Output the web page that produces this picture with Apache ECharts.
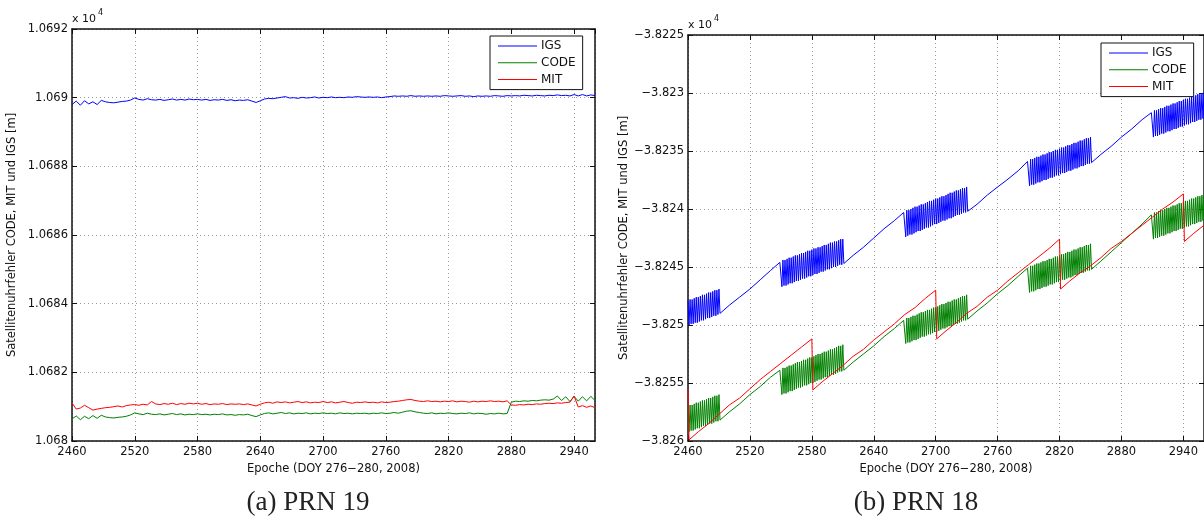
<!DOCTYPE html>
<html>
<head>
<meta charset="utf-8">
<script src="https://cdn.jsdelivr.net/npm/echarts@6.0.0/dist/echarts.min.js"></script>
<style>
html,body{margin:0;padding:0;background:#fff;}
#chart{width:1204px;height:521px;}
</style>
</head>
<body>
<div id="chart"></div>
<script>
// ---- Satellite clock error, PRN 19 (a) and PRN 18 (b), epochs 2460-2960 ----
const SERIES_NAMES = ['IGS', 'CODE', 'MIT'];
const SERIES_COLORS = ['#0000ff', '#008000', '#ff0000'];
const X_TITLE = 'Epoche (DOY 276\u2212280, 2008)';
const Y_TITLE = 'Satellitenuhrfehler CODE, MIT und IGS [m]';
const CAPTIONS = ['(a) PRN 19', '(b) PRN 18'];

const EPOCH_MIN = 2460, EPOCH_MAX = 2960, EPOCH_STEP = 60;
const LEFT_Y = { min: 10680, max: 10692, interval: 2 };
const RIGHT_Y = { min: -38260, max: -38225, interval: 5 };

// PRN 19: sample epochs shared by the three solutions
const PRN19_EPOCHS = [
  2460,2464,2468,2472,2476,2480,2484,2488,2492,2496,
  2500,2504,2508,2512,2516,2520,2524,2528,2532,2536,
  2540,2544,2548,2552,2556,2560,2564,2568,2572,2576,
  2580,2584,2588,2592,2596,2600,2604,2608,2612,2616,
  2620,2624,2628,2632,2636,2640,2644,2648,2652,2656,
  2660,2664,2668,2672,2676,2680,2684,2688,2692,2696,
  2700,2704,2708,2712,2716,2720,2724,2728,2732,2736,
  2740,2744,2748,2752,2756,2760,2764,2768,2772,2776,
  2780,2784,2788,2792,2796,2800,2804,2808,2812,2816,
  2820,2824,2828,2832,2836,2840,2844,2848,2852,2856,
  2860,2864,2868,2872,2876,2880,2884,2888,2892,2896,
  2900,2904,2908,2912,2916,2920,2924,2928,2932,2936,
  2940,2944,2948,2952,2956,2960
];
const PRN19_IGS = [
  10689.80,10689.90,10689.78,10689.91,10689.82,10689.88,10689.80,10689.92,10689.88,10689.86,
  10689.85,10689.87,10689.89,10689.90,10689.93,10689.99,10689.95,10689.93,10689.97,10689.94,
  10689.93,10689.95,10689.92,10689.94,10689.96,10689.93,10689.95,10689.93,10689.96,10689.94,
  10689.95,10689.93,10689.95,10689.92,10689.94,10689.93,10689.95,10689.92,10689.94,10689.91,
  10689.93,10689.92,10689.94,10689.90,10689.86,10689.91,10689.96,10689.98,10689.97,10689.99,
  10690.01,10690.03,10689.99,10690.00,10689.98,10690.01,10689.99,10690.00,10690.02,10689.99,
  10690.01,10690.00,10690.02,10690.00,10690.01,10690.00,10690.02,10690.01,10690.03,10690.02,
  10690.01,10690.02,10690.01,10690.02,10690.00,10690.02,10690.03,10690.05,10690.04,10690.05,
  10690.04,10690.06,10690.04,10690.05,10690.04,10690.05,10690.04,10690.05,10690.04,10690.06,
  10690.05,10690.04,10690.05,10690.06,10690.04,10690.05,10690.03,10690.05,10690.04,10690.05,
  10690.04,10690.06,10690.05,10690.04,10690.06,10690.05,10690.06,10690.05,10690.07,10690.06,
  10690.05,10690.07,10690.06,10690.05,10690.07,10690.06,10690.08,10690.06,10690.07,10690.05,
  10690.09,10690.05,10690.09,10690.05,10690.08,10690.06
];
const PRN19_CODE = [
  10680.64,10680.73,10680.62,10680.72,10680.65,10680.74,10680.66,10680.75,10680.70,10680.68,
  10680.67,10680.69,10680.70,10680.72,10680.76,10680.82,10680.79,10680.77,10680.81,10680.78,
  10680.77,10680.79,10680.76,10680.78,10680.80,10680.77,10680.79,10680.76,10680.78,10680.77,
  10680.79,10680.77,10680.78,10680.76,10680.78,10680.77,10680.79,10680.76,10680.77,10680.75,
  10680.77,10680.76,10680.78,10680.74,10680.71,10680.76,10680.80,10680.82,10680.79,10680.81,
  10680.83,10680.80,10680.82,10680.79,10680.81,10680.80,10680.82,10680.79,10680.81,10680.80,
  10680.82,10680.80,10680.81,10680.79,10680.82,10680.80,10680.81,10680.79,10680.81,10680.80,
  10680.81,10680.79,10680.81,10680.80,10680.82,10680.80,10680.81,10680.83,10680.81,10680.84,
  10680.87,10680.88,10680.85,10680.83,10680.81,10680.80,10680.82,10680.79,10680.81,10680.80,
  10680.82,10680.80,10680.79,10680.81,10680.80,10680.82,10680.79,10680.81,10680.80,10680.78,
  10680.80,10680.79,10680.81,10680.79,10680.80,10681.13,10681.16,10681.15,10681.17,10681.16,
  10681.18,10681.17,10681.19,10681.20,10681.19,10681.22,10681.31,10681.18,10681.29,10681.15,
  10681.30,10681.16,10681.29,10681.17,10681.30,10681.18
];
const PRN19_MIT = [
  10681.11,10680.93,10680.96,10681.04,10680.97,10680.90,10680.93,10680.95,10680.97,10680.98,
  10681.00,10681.02,10680.99,10681.03,10681.05,10681.06,10681.04,10681.07,10681.05,10681.15,
  10681.08,10681.06,10681.09,10681.07,10681.10,10681.06,10681.09,10681.07,10681.10,10681.08,
  10681.10,10681.07,10681.09,10681.06,10681.08,10681.07,10681.09,10681.06,10681.08,10681.07,
  10681.08,10681.06,10681.08,10681.05,10681.02,10681.07,10681.11,10681.13,10681.10,10681.14,
  10681.12,10681.14,10681.11,10681.13,10681.15,10681.12,10681.14,10681.11,10681.13,10681.12,
  10681.15,10681.12,10681.14,10681.11,10681.13,10681.15,10681.12,10681.10,10681.13,10681.12,
  10681.14,10681.12,10681.13,10681.11,10681.14,10681.12,10681.13,10681.15,10681.16,10681.18,
  10681.20,10681.21,10681.18,10681.16,10681.15,10681.17,10681.15,10681.16,10681.14,10681.16,
  10681.15,10681.17,10681.14,10681.16,10681.15,10681.13,10681.16,10681.14,10681.16,10681.15,
  10681.17,10681.15,10681.16,10681.14,10681.17,10681.05,10681.04,10681.06,10681.05,10681.07,
  10681.06,10681.08,10681.07,10681.09,10681.10,10681.09,10681.11,10681.10,10681.12,10681.13,
  10681.31,10680.99,10681.03,10680.98,10681.02,10680.97
];

// PRN 18: [epoch, metres]; the dense stretches alternate every epoch
const PRN18_IGS = [
  [2460,-38247.9],[2461,-38250.0],[2462,-38247.8],[2463,-38249.9],[2464,-38247.8],[2465,-38249.9],[2466,-38247.7],[2467,-38249.8],[2468,-38247.6],[2469,-38249.8],
  [2470,-38247.6],[2471,-38249.7],[2472,-38247.5],[2473,-38249.6],[2474,-38247.4],[2475,-38249.6],[2476,-38247.4],[2477,-38249.5],[2478,-38247.3],[2479,-38249.4],
  [2480,-38247.2],[2481,-38249.4],[2482,-38247.2],[2483,-38249.3],[2484,-38247.1],[2485,-38249.2],[2486,-38247.0],[2487,-38249.2],[2488,-38247.0],[2489,-38249.1],
  [2490,-38246.9],[2491,-38249.0],
  [2500,-38248.3],[2510,-38247.6],[2520,-38246.9],[2530,-38246.1],[2540,-38245.3],[2549,-38244.6],
  [2550,-38244.5],[2551,-38246.7],[2552,-38244.4],[2553,-38246.6],[2554,-38244.4],[2555,-38246.6],[2556,-38244.3],[2557,-38246.5],[2558,-38244.2],[2559,-38246.4],
  [2560,-38244.2],[2561,-38246.4],[2562,-38244.1],[2563,-38246.3],[2564,-38244.0],[2565,-38246.2],[2566,-38244.0],[2567,-38246.2],[2568,-38243.9],[2569,-38246.1],
  [2570,-38243.8],[2571,-38246.0],[2572,-38243.8],[2573,-38246.0],[2574,-38243.7],[2575,-38245.9],[2576,-38243.6],[2577,-38245.8],[2578,-38243.6],[2579,-38245.8],
  [2580,-38243.5],[2581,-38245.7],[2582,-38243.4],[2583,-38245.6],[2584,-38243.4],[2585,-38245.6],[2586,-38243.3],[2587,-38245.5],[2588,-38243.3],[2589,-38245.4],
  [2590,-38243.2],[2591,-38245.4],[2592,-38243.1],[2593,-38245.3],[2594,-38243.1],[2595,-38245.2],[2596,-38243.0],[2597,-38245.2],[2598,-38242.9],[2599,-38245.1],
  [2600,-38242.9],[2601,-38245.0],[2602,-38242.8],[2603,-38245.0],[2604,-38242.8],[2605,-38244.9],[2606,-38242.7],[2607,-38244.8],[2608,-38242.6],[2609,-38244.8],
  [2610,-38242.6],[2611,-38244.7],
  [2620,-38244.0],[2630,-38243.3],[2640,-38242.5],[2650,-38241.7],[2660,-38241.0],[2669,-38240.3],
  [2670,-38240.2],[2671,-38242.4],[2672,-38240.1],[2673,-38242.3],[2674,-38240.1],[2675,-38242.2],[2676,-38240.0],[2677,-38242.2],[2678,-38239.9],[2679,-38242.1],
  [2680,-38239.8],[2681,-38242.0],[2682,-38239.8],[2683,-38241.9],[2684,-38239.7],[2685,-38241.9],[2686,-38239.6],[2687,-38241.8],[2688,-38239.6],[2689,-38241.7],
  [2690,-38239.5],[2691,-38241.6],[2692,-38239.4],[2693,-38241.6],[2694,-38239.3],[2695,-38241.5],[2696,-38239.3],[2697,-38241.4],[2698,-38239.2],[2699,-38241.3],
  [2700,-38239.1],[2701,-38241.3],[2702,-38239.1],[2703,-38241.2],[2704,-38239.0],[2705,-38241.1],[2706,-38238.9],[2707,-38241.0],[2708,-38238.9],[2709,-38241.0],
  [2710,-38238.8],[2711,-38240.9],[2712,-38238.7],[2713,-38240.8],[2714,-38238.6],[2715,-38240.8],[2716,-38238.6],[2717,-38240.7],[2718,-38238.5],[2719,-38240.6],
  [2720,-38238.4],[2721,-38240.5],[2722,-38238.4],[2723,-38240.5],[2724,-38238.3],[2725,-38240.4],[2726,-38238.2],[2727,-38240.3],[2728,-38238.2],[2729,-38240.3],
  [2730,-38238.1],[2731,-38240.2],
  [2740,-38239.6],[2750,-38238.8],[2760,-38238.1],[2769,-38237.5],[2780,-38236.7],[2789,-38235.9],
  [2790,-38235.8],[2791,-38238.0],[2792,-38235.7],[2793,-38237.9],[2794,-38235.7],[2795,-38237.9],[2796,-38235.6],[2797,-38237.8],[2798,-38235.5],[2799,-38237.7],
  [2800,-38235.5],[2801,-38237.7],[2802,-38235.4],[2803,-38237.6],[2804,-38235.3],[2805,-38237.5],[2806,-38235.3],[2807,-38237.5],[2808,-38235.2],[2809,-38237.4],
  [2810,-38235.1],[2811,-38237.3],[2812,-38235.1],[2813,-38237.3],[2814,-38235.0],[2815,-38237.2],[2816,-38234.9],[2817,-38237.1],[2818,-38234.9],[2819,-38237.1],
  [2820,-38234.8],[2821,-38237.0],[2822,-38234.7],[2823,-38236.9],[2824,-38234.7],[2825,-38236.9],[2826,-38234.6],[2827,-38236.8],[2828,-38234.5],[2829,-38236.7],
  [2830,-38234.5],[2831,-38236.7],[2832,-38234.4],[2833,-38236.6],[2834,-38234.3],[2835,-38236.5],[2836,-38234.3],[2837,-38236.5],[2838,-38234.2],[2839,-38236.4],
  [2840,-38234.1],[2841,-38236.3],[2842,-38234.1],[2843,-38236.3],[2844,-38234.0],[2845,-38236.2],[2846,-38233.9],[2847,-38236.1],[2848,-38233.9],[2849,-38236.1],
  [2850,-38233.8],[2851,-38236.0],
  [2860,-38235.3],[2870,-38234.6],[2880,-38233.8],[2890,-38233.1],[2900,-38232.3],[2909,-38231.7],
  [2910,-38231.6],[2911,-38233.8],[2912,-38231.5],[2913,-38233.7],[2914,-38231.5],[2915,-38233.7],[2916,-38231.4],[2917,-38233.6],[2918,-38231.3],[2919,-38233.5],
  [2920,-38231.3],[2921,-38233.5],[2922,-38231.2],[2923,-38233.4],[2924,-38231.1],[2925,-38233.3],[2926,-38231.1],[2927,-38233.3],[2928,-38231.0],[2929,-38233.2],
  [2930,-38230.9],[2931,-38233.1],[2932,-38230.9],[2933,-38233.1],[2934,-38230.8],[2935,-38233.0],[2936,-38230.7],[2937,-38232.9],[2938,-38230.7],[2939,-38232.9],
  [2940,-38230.6],[2941,-38232.8],[2942,-38230.5],[2943,-38232.7],[2944,-38230.5],[2945,-38232.7],[2946,-38230.4],[2947,-38232.6],[2948,-38230.3],[2949,-38232.5],
  [2950,-38230.3],[2951,-38232.5],[2952,-38230.2],[2953,-38232.4],[2954,-38230.1],[2955,-38232.3],[2956,-38230.1],[2957,-38232.3],[2958,-38230.0],[2959,-38232.2],
  [2960,-38229.9]
];
const PRN18_CODE = [
  [2460,-38257.0],[2461,-38259.2],[2462,-38256.9],[2463,-38259.1],[2464,-38256.9],[2465,-38259.1],[2466,-38256.8],[2467,-38259.0],[2468,-38256.7],[2469,-38258.9],
  [2470,-38256.7],[2471,-38258.9],[2472,-38256.6],[2473,-38258.8],[2474,-38256.5],[2475,-38258.7],[2476,-38256.5],[2477,-38258.7],[2478,-38256.4],[2479,-38258.6],
  [2480,-38256.3],[2481,-38258.5],[2482,-38256.3],[2483,-38258.5],[2484,-38256.2],[2485,-38258.4],[2486,-38256.1],[2487,-38258.3],[2488,-38256.1],[2489,-38258.3],
  [2490,-38256.0],[2491,-38258.2],
  [2500,-38257.5],[2510,-38256.8],[2520,-38256.0],[2530,-38255.3],[2540,-38254.5],[2549,-38253.9],
  [2550,-38253.8],[2551,-38256.0],[2552,-38253.7],[2553,-38255.9],[2554,-38253.7],[2555,-38255.9],[2556,-38253.6],[2557,-38255.8],[2558,-38253.5],[2559,-38255.7],
  [2560,-38253.5],[2561,-38255.7],[2562,-38253.4],[2563,-38255.6],[2564,-38253.3],[2565,-38255.5],[2566,-38253.2],[2567,-38255.4],[2568,-38253.2],[2569,-38255.4],
  [2570,-38253.1],[2571,-38255.3],[2572,-38253.0],[2573,-38255.2],[2574,-38253.0],[2575,-38255.2],[2576,-38252.9],[2577,-38255.1],[2578,-38252.8],[2579,-38255.0],
  [2580,-38252.8],[2581,-38255.0],[2582,-38252.7],[2583,-38254.9],[2584,-38252.6],[2585,-38254.8],[2586,-38252.5],[2587,-38254.7],[2588,-38252.5],[2589,-38254.7],
  [2590,-38252.4],[2591,-38254.6],[2592,-38252.3],[2593,-38254.5],[2594,-38252.3],[2595,-38254.5],[2596,-38252.2],[2597,-38254.4],[2598,-38252.1],[2599,-38254.3],
  [2600,-38252.1],[2601,-38254.3],[2602,-38252.0],[2603,-38254.2],[2604,-38251.9],[2605,-38254.1],[2606,-38251.8],[2607,-38254.0],[2608,-38251.8],[2609,-38254.0],
  [2610,-38251.7],[2611,-38253.9],
  [2620,-38253.2],[2630,-38252.5],[2640,-38251.8],[2650,-38251.0],[2660,-38250.3],[2669,-38249.6],
  [2670,-38249.5],[2671,-38251.6],[2672,-38249.4],[2673,-38251.5],[2674,-38249.4],[2675,-38251.5],[2676,-38249.3],[2677,-38251.4],[2678,-38249.2],[2679,-38251.3],
  [2680,-38249.2],[2681,-38251.3],[2682,-38249.1],[2683,-38251.2],[2684,-38249.0],[2685,-38251.1],[2686,-38248.9],[2687,-38251.0],[2688,-38248.9],[2689,-38251.0],
  [2690,-38248.8],[2691,-38250.9],[2692,-38248.7],[2693,-38250.8],[2694,-38248.7],[2695,-38250.8],[2696,-38248.6],[2697,-38250.7],[2698,-38248.5],[2699,-38250.6],
  [2700,-38248.5],[2701,-38250.6],[2702,-38248.4],[2703,-38250.5],[2704,-38248.3],[2705,-38250.4],[2706,-38248.2],[2707,-38250.3],[2708,-38248.2],[2709,-38250.3],
  [2710,-38248.1],[2711,-38250.2],[2712,-38248.0],[2713,-38250.1],[2714,-38248.0],[2715,-38250.1],[2716,-38247.9],[2717,-38250.0],[2718,-38247.8],[2719,-38249.9],
  [2720,-38247.8],[2721,-38249.9],[2722,-38247.7],[2723,-38249.8],[2724,-38247.6],[2725,-38249.7],[2726,-38247.5],[2727,-38249.6],[2728,-38247.5],[2729,-38249.6],
  [2730,-38247.4],[2731,-38249.5],
  [2740,-38248.8],[2750,-38248.1],[2760,-38247.3],[2770,-38246.6],[2780,-38245.8],[2789,-38245.1],
  [2790,-38245.0],[2791,-38247.2],[2792,-38244.9],[2793,-38247.1],[2794,-38244.9],[2795,-38247.1],[2796,-38244.8],[2797,-38247.0],[2798,-38244.7],[2799,-38246.9],
  [2800,-38244.7],[2801,-38246.9],[2802,-38244.6],[2803,-38246.8],[2804,-38244.5],[2805,-38246.7],[2806,-38244.5],[2807,-38246.7],[2808,-38244.4],[2809,-38246.6],
  [2810,-38244.3],[2811,-38246.5],[2812,-38244.3],[2813,-38246.5],[2814,-38244.2],[2815,-38246.4],[2816,-38244.1],[2817,-38246.3],[2818,-38244.1],[2819,-38246.3],
  [2820,-38244.0],[2821,-38246.2],[2822,-38243.9],[2823,-38246.1],[2824,-38243.9],[2825,-38246.1],[2826,-38243.8],[2827,-38246.0],[2828,-38243.7],[2829,-38245.9],
  [2830,-38243.7],[2831,-38245.9],[2832,-38243.6],[2833,-38245.8],[2834,-38243.5],[2835,-38245.7],[2836,-38243.5],[2837,-38245.7],[2838,-38243.4],[2839,-38245.6],
  [2840,-38243.3],[2841,-38245.5],[2842,-38243.3],[2843,-38245.5],[2844,-38243.2],[2845,-38245.4],[2846,-38243.1],[2847,-38245.3],[2848,-38243.1],[2849,-38245.3],
  [2850,-38243.0],[2851,-38245.2],
  [2860,-38244.5],[2870,-38243.7],[2880,-38242.9],[2890,-38242.1],[2900,-38241.3],[2909,-38240.5],
  [2910,-38240.4],[2911,-38242.6],[2912,-38240.3],[2913,-38242.5],[2914,-38240.3],[2915,-38242.5],[2916,-38240.2],[2917,-38242.4],[2918,-38240.1],[2919,-38242.3],
  [2920,-38240.1],[2921,-38242.3],[2922,-38240.0],[2923,-38242.2],[2924,-38239.9],[2925,-38242.1],[2926,-38239.9],[2927,-38242.1],[2928,-38239.8],[2929,-38242.0],
  [2930,-38239.7],[2931,-38241.9],[2932,-38239.7],[2933,-38241.9],[2934,-38239.6],[2935,-38241.8],[2936,-38239.5],[2937,-38241.7],[2938,-38239.5],[2939,-38241.7],
  [2940,-38239.4],[2941,-38241.6],[2942,-38239.3],[2943,-38241.5],[2944,-38239.3],[2945,-38241.5],[2946,-38239.2],[2947,-38241.4],[2948,-38239.1],[2949,-38241.3],
  [2950,-38239.1],[2951,-38241.3],[2952,-38239.0],[2953,-38241.2],[2954,-38238.9],[2955,-38241.1],[2956,-38238.9],[2957,-38241.1],[2958,-38238.8],[2959,-38241.0],
  [2960,-38238.8]
];
const PRN18_MIT = [
  [2460,-38255.6],[2461,-38259.9],[2470,-38259.2],[2480,-38258.5],[2490,-38257.7],[2500,-38256.9],[2510,-38256.3],[2520,-38255.5],[2530,-38254.7],[2540,-38254.0],
  [2550,-38253.3],[2560,-38252.6],[2570,-38251.9],[2580,-38251.2],[2581,-38255.6],[2590,-38254.9],[2600,-38254.2],[2610,-38253.5],[2620,-38252.7],[2630,-38252.1],
  [2640,-38251.3],[2650,-38250.6],[2660,-38249.9],[2670,-38249.1],[2680,-38248.5],[2690,-38247.7],[2700,-38247.0],[2701,-38251.2],[2710,-38250.5],[2720,-38249.8],
  [2730,-38249.0],[2740,-38248.4],[2750,-38247.6],[2760,-38247.0],[2770,-38246.2],[2780,-38245.5],[2790,-38244.8],[2800,-38244.1],[2810,-38243.4],[2820,-38242.6],
  [2821,-38246.9],[2830,-38246.2],[2840,-38245.5],[2850,-38244.9],[2860,-38244.2],[2870,-38243.4],[2880,-38242.8],[2890,-38242.1],[2900,-38241.4],[2910,-38240.7],
  [2920,-38240.0],[2930,-38239.4],[2940,-38238.7],[2941,-38242.8],[2950,-38242.1],[2960,-38241.4]
];

// ---- styling ----
const FONT = 'DejaVu Sans';
const INK = '#111111';
const DOT = '#9a9a9a';
const TICK_FONT = 11.5;
const FRAME_WIDTH = 1.5;

function scaledLabel(v) {
  // axis values are shown in units of 10^4 m
  return String(Number((v / 1e4).toFixed(5))).replace('-', '\u2212');
}

function bottomAxis(gridIndex) {
  return {
    type: 'value', gridIndex, position: 'bottom',
    min: EPOCH_MIN, max: EPOCH_MAX, interval: EPOCH_STEP,
    name: X_TITLE, nameLocation: 'middle', nameGap: 20,
    nameTextStyle: { fontFamily: FONT, fontSize: TICK_FONT, color: INK },
    axisLine: { onZero: false, lineStyle: { color: INK, width: FRAME_WIDTH } },
    axisTick: { inside: true, length: 5, lineStyle: { color: INK } },
    axisLabel: { formatter: v => String(v), showMaxLabel: false, margin: 5,
                 fontFamily: FONT, fontSize: TICK_FONT, color: INK },
    splitLine: { show: true, lineStyle: { type: [1, 3], color: DOT, width: 1 } }
  };
}
function topAxis(gridIndex) {
  return {
    type: 'value', gridIndex, position: 'top',
    min: EPOCH_MIN, max: EPOCH_MAX, interval: EPOCH_STEP,
    axisLine: { onZero: false, lineStyle: { color: INK, width: FRAME_WIDTH } },
    axisTick: { inside: true, length: 5, lineStyle: { color: INK } },
    axisLabel: { show: false }, splitLine: { show: false }
  };
}
function leftAxis(gridIndex, range, gap) {
  return {
    type: 'value', gridIndex, position: 'left',
    min: range.min, max: range.max, interval: range.interval,
    name: Y_TITLE, nameLocation: 'middle', nameGap: gap, nameRotate: 90,
    nameTextStyle: { fontFamily: FONT, fontSize: TICK_FONT, color: INK },
    axisLine: { onZero: false, lineStyle: { color: INK, width: FRAME_WIDTH } },
    axisTick: { inside: true, length: 5, lineStyle: { color: INK } },
    axisLabel: { formatter: scaledLabel, margin: 4, fontFamily: FONT, fontSize: TICK_FONT, color: INK },
    splitLine: { show: true, lineStyle: { type: [1, 3], color: DOT, width: 1 } }
  };
}
function rightAxis(gridIndex, range) {
  return {
    type: 'value', gridIndex, position: 'right',
    min: range.min, max: range.max, interval: range.interval,
    axisLine: { onZero: false, lineStyle: { color: INK, width: FRAME_WIDTH } },
    axisTick: { inside: true, length: 5, lineStyle: { color: INK } },
    axisLabel: { show: false }, splitLine: { show: false }
  };
}
function legendBox(left, top) {
  return {
    data: SERIES_NAMES, orient: 'vertical', left, top,
    selectedMode: false,
    // plain line sample, no marker
    icon: 'path://M0,0L39,0L39,1L0,1Z', symbolKeepAspect: true,
    backgroundColor: '#ffffff', borderColor: INK, borderWidth: 1,
    padding: [4, 7, 4, 8], itemWidth: 39, itemHeight: 12, itemGap: 4.8,
    textStyle: { fontFamily: FONT, fontSize: 12, color: INK, padding: [0, 0, 0, -1] }
  };
}
function lineSeries(name, color, data, axisIndex) {
  return {
    name, type: 'line', data, xAxisIndex: axisIndex, yAxisIndex: axisIndex,
    symbol: 'none', showSymbol: false, clip: true, silent: true,
    lineStyle: { color, width: 1 }, itemStyle: { color }
  };
}

const prn19Pairs = [PRN19_IGS, PRN19_CODE, PRN19_MIT].map(vals => PRN19_EPOCHS.map((e, i) => [e, vals[i]]));
const prn18Pairs = [PRN18_IGS, PRN18_CODE, PRN18_MIT];

const series = [];
SERIES_NAMES.forEach((n, k) => series.push(lineSeries(n, SERIES_COLORS[k], prn19Pairs[k], 0)));
SERIES_NAMES.forEach((n, k) => series.push(lineSeries(n, SERIES_COLORS[k], prn18Pairs[k], 2)));

const exponent = (x, y) => [
  { type: 'text', x, y, style: { text: 'x 10', fontFamily: FONT, fontSize: 11, fill: INK, textVerticalAlign: 'middle' } },
  { type: 'text', x: x + 26, y: y - 6, style: { text: '4', fontFamily: FONT, fontSize: 8, fill: INK, textVerticalAlign: 'middle' } }
];
const caption = (x, y, text) => ({
  type: 'text', x, y,
  style: { text, fontFamily: 'Liberation Serif', fontSize: 27, fill: '#222', textAlign: 'center', textVerticalAlign: 'middle' }
});

const option = {
  animation: false,
  backgroundColor: '#ffffff',
  grid: [
    { left: 72, top: 29, width: 523, height: 412, show: false },
    { left: 688, top: 35, width: 517, height: 406, show: false }
  ],
  xAxis: [bottomAxis(0), topAxis(0), bottomAxis(1), topAxis(1)],
  yAxis: [leftAxis(0, LEFT_Y, 54), rightAxis(0, LEFT_Y), leftAxis(1, RIGHT_Y, 55), rightAxis(1, RIGHT_Y)],
  legend: [legendBox(490, 36), legendBox(1101, 43)],
  series,
  graphic: [].concat(
    exponent(72, 19), exponent(688, 25),
    [caption(308, 503, CAPTIONS[0]), caption(916, 503, CAPTIONS[1])]
  )
};

const chart = echarts.init(document.getElementById('chart'), null, { renderer: 'canvas' });
chart.setOption(option);
</script>
</body>
</html>
